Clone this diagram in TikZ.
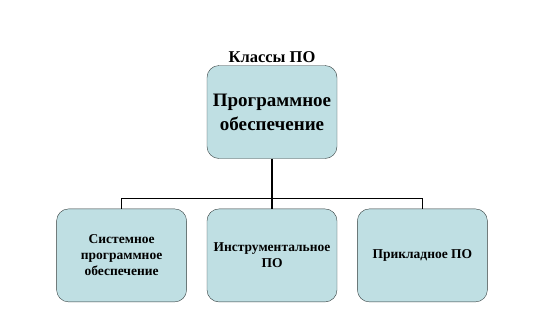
\documentclass[tikz,border=0pt]{standalone}
\usepackage{fontspec}
\setmainfont{Liberation Serif}[BoldFont={Liberation Serif Bold}]
\usetikzlibrary{positioning}

\definecolor{boxfill}{RGB}{191,223,227}
\definecolor{boxline}{RGB}{50,60,60}

\begin{document}
\begin{tikzpicture}[
    x=1pt,y=-1pt,
    node distance=50pt and 20pt,
    box/.style={rectangle,draw=boxline,fill=boxfill,rounded corners=12pt,align=center,minimum width=130pt,minimum height=93pt,font=\rmfamily\bfseries\fontsize{13.5}{16}\selectfont},
    topbox/.style={box,font=\rmfamily\bfseries\fontsize{19}{24}\selectfont},
    link/.style={draw=black,line width=1.2pt},
]
\useasboundingbox (0,0) rectangle (549,333);

% ===== Root =====
\node[topbox] (po) at (272,112) {Программное\\обеспечение};
\node[font=\rmfamily\bfseries\fontsize{16.5}{19}\selectfont,above=-1pt of po.north] (title) {Классы ПО};

% ===== Classes =====
\node[box,below=of po] (instr) {Инструментальное\\ПО};
\node[box,left=of instr] (sys) {Системное\\программное\\обеспечение};
\node[box,right=of instr] (appl) {Прикладное ПО};

% Connections
\coordinate (fork) at ([yshift=-40pt]po.south);
\draw[link] (po.south) -- (fork);
\draw[link] (fork) -| (sys.north);
\draw[link] (fork) -- (instr.north);
\draw[link] (fork) -| (appl.north);

\end{tikzpicture}
\end{document}
